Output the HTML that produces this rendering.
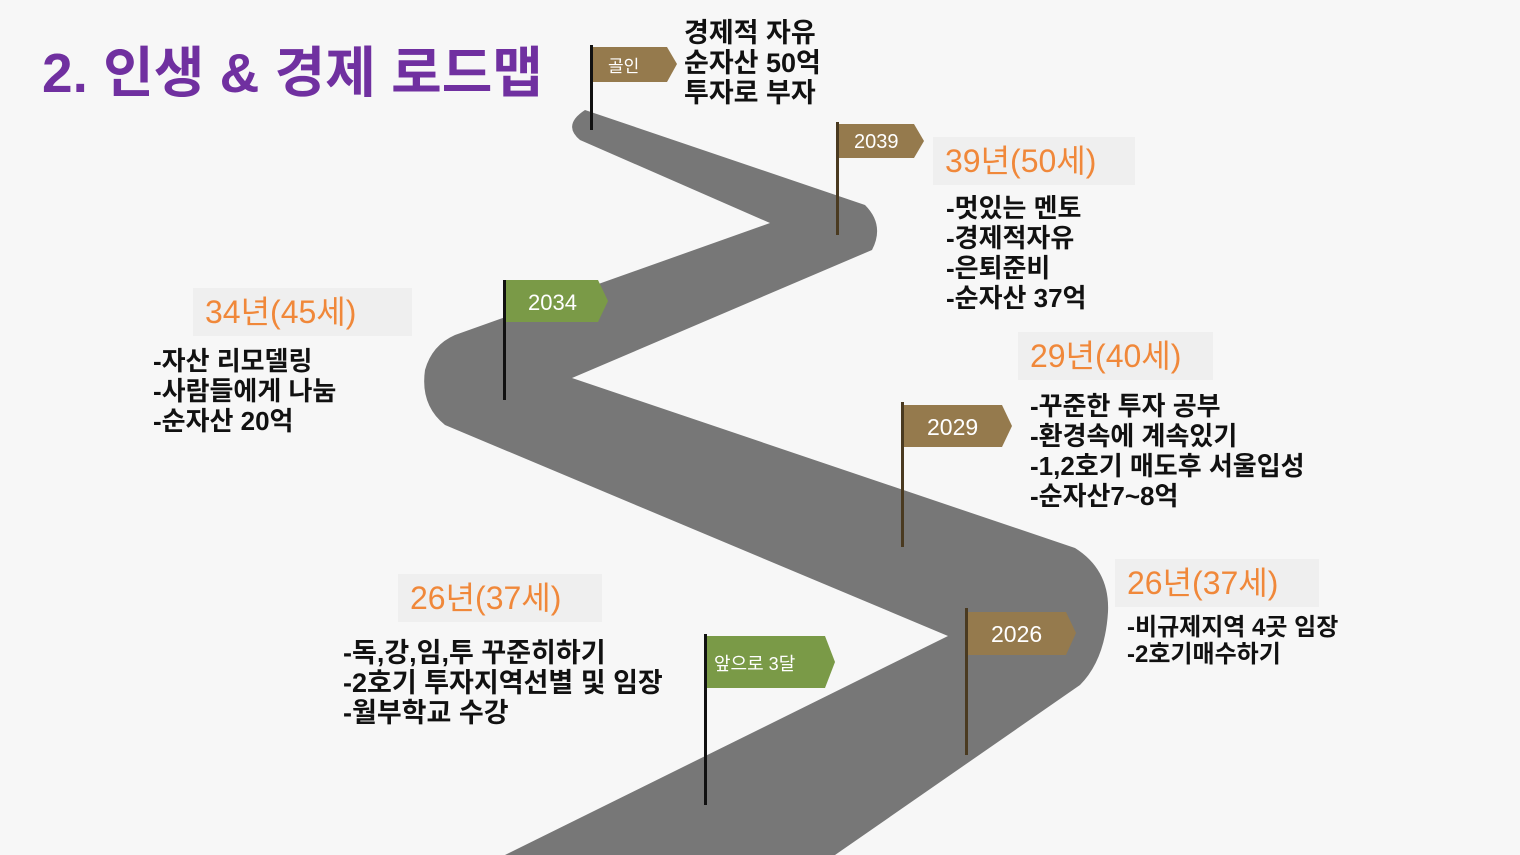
<!DOCTYPE html>
<html><head><meta charset="utf-8"><style>
body{margin:0;width:1520px;height:855px;background:#f7f7f7;overflow:hidden;position:relative;font-family:"Liberation Sans","Noto Sans CJK KR",sans-serif}
.t{position:absolute;white-space:nowrap}
.h{position:absolute;background:#efefef;color:#f0883a;font-size:32px;padding:4px 12px;line-height:40px}
.b{position:absolute;font-weight:bold;font-size:26px;line-height:30px;color:#111;white-space:nowrap}
</style></head><body>
<svg width="1520" height="855" style="position:absolute;left:0;top:0">
<path d="M585,110 L865,205 Q885,225 872,250 L572,378 L1075,548 Q1110,570 1108,612 Q1105,660 1080,685 L835,855 L505,855 L948,636 L445,425 Q420,405 425,370 Q432,345 455,335 L770,223 L580,140 Q562,125 585,110 Z" fill="#777"/>
<g>
<rect x="590" y="45" width="3" height="85" fill="#111"/>
<path d="M593,47 H667 L677,64 L667,82 H593 Z" fill="#957a4d"/>
<rect x="836" y="122" width="3" height="113" fill="#4a3a20"/>
<path d="M839,124 H914 L924,141 L914,158 H839 Z" fill="#957a4d"/>
<rect x="503" y="280" width="3" height="120" fill="#111"/>
<path d="M506,280 H598 L608,301 L598,322 H506 Z" fill="#7a9a47"/>
<rect x="901" y="402" width="3" height="145" fill="#4a3a20"/>
<path d="M904,405 H1002 L1012,426 L1002,447 H904 Z" fill="#957a4d"/>
<rect x="965" y="608" width="3" height="147" fill="#4a3a20"/>
<path d="M968,612 H1066 L1076,633 L1066,655 H968 Z" fill="#957a4d"/>
<rect x="704" y="634" width="3" height="171" fill="#111"/>
<path d="M707,636 H825 L835,662 L825,688 H707 Z" fill="#7a9a47"/>
</g>
<g fill="#fff" font-family="Liberation Sans, Noto Sans CJK KR, sans-serif">
<text x="608" y="72" font-size="17">골인</text>
<text x="854" y="148" font-size="20">2039</text>
<text x="528" y="310" font-size="22">2034</text>
<text x="927" y="435" font-size="23">2029</text>
<text x="991" y="642" font-size="23">2026</text>
<text x="714" y="670" font-size="18">앞으로 3달</text>
</g>
</svg>
<div class="t" style="left:42px;top:28px;font-size:55px;font-weight:bold;color:#7030a0">2. 인생 &amp; 경제 로드맵</div>
<div class="b" style="left:684px;top:18px;font-size:27px">경제적 자유<br>순자산 50억<br>투자로 부자</div>
<div class="h" style="left:933px;top:137px;width:178px">39년(50세)</div>
<div class="b" style="left:946px;top:193px">-멋있는 멘토<br>-경제적자유<br>-은퇴준비<br>-순자산 37억</div>
<div class="h" style="left:193px;top:288px;width:195px">34년(45세)</div>
<div class="b" style="left:153px;top:346px">-자산 리모델링<br>-사람들에게 나눔<br>-순자산 20억</div>
<div class="h" style="left:1018px;top:332px;width:171px">29년(40세)</div>
<div class="b" style="left:1030px;top:391px">-꾸준한 투자 공부<br>-환경속에 계속있기<br>-1,2호기 매도후 서울입성<br>-순자산7~8억</div>
<div class="h" style="left:1115px;top:559px;width:180px">26년(37세)</div>
<div class="b" style="left:1127px;top:614px;font-size:24px;line-height:27px">-비규제지역 4곳 임장<br>-2호기매수하기</div>
<div class="h" style="left:398px;top:574px;width:180px">26년(37세)</div>
<div class="b" style="left:343px;top:638px;font-size:27px">-독,강,임,투 꾸준히하기<br>-2호기 투자지역선별 및 임장<br>-월부학교 수강</div>
</body></html>
